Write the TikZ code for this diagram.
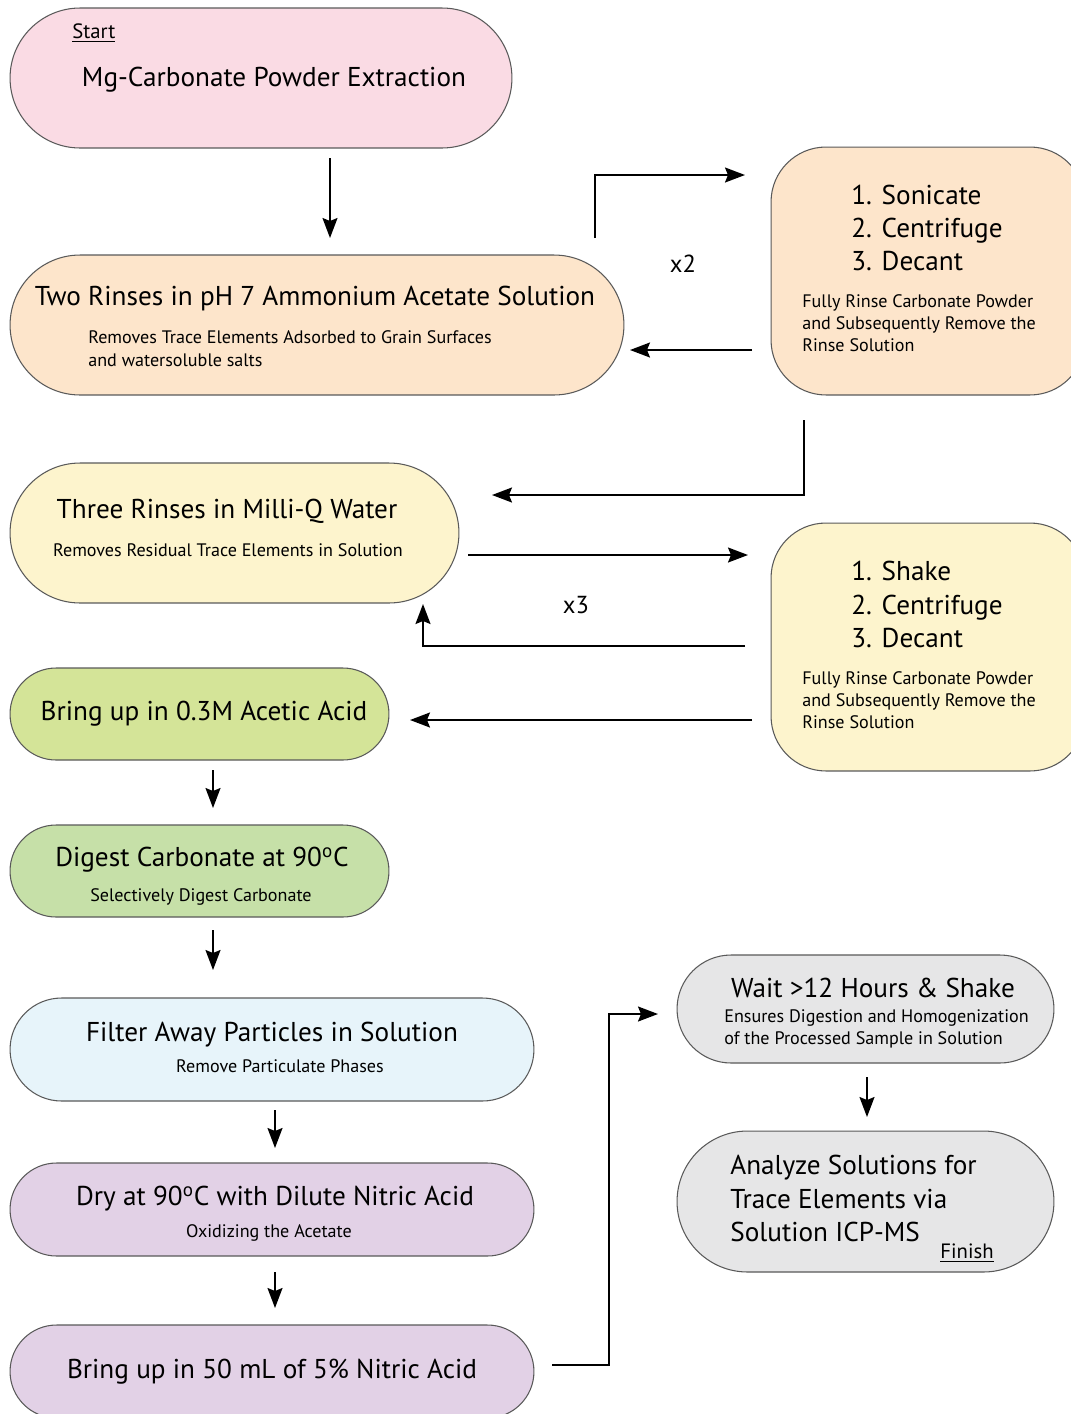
\documentclass[tikz,border=0pt]{standalone}
\usepackage{fontspec}
\setmainfont{PT Sans}
\usetikzlibrary{arrows.meta}

\definecolor{startpink}{RGB}{250,219,228}
\definecolor{rinsepeach}{RGB}{253,229,203}
\definecolor{rinseyellow}{RGB}{253,244,205}
\definecolor{aceticgreen}{RGB}{212,228,152}
\definecolor{digestgreen}{RGB}{198,224,168}
\definecolor{filterblue}{RGB}{231,244,250}
\definecolor{drylilac}{RGB}{226,209,230}
\definecolor{finalgray}{RGB}{230,230,231}

\tikzset{
	stepbox/.style={draw=black!65, line width=0.6pt, rectangle, inner sep=0pt},
	title/.style={font=\fontsize{15.5}{19}\selectfont, inner sep=0pt},
	note/.style={font=\fontsize{10.3}{12.5}\selectfont, align=left, inner sep=0pt},
	arr/.style={line width=1pt, -{Stealth[length=0.4cm, width=0.3cm, inset=0.06cm]}},
}

\begin{document}
\begin{tikzpicture}[x=0.02cm, y=-0.02cm]
	\useasboundingbox (0,0) rectangle (1071,1414);
	\clip (0,0) rectangle (1071,1414);

	\node[stepbox, fill=startpink, minimum width=10.04cm, minimum height=2.8cm, rounded corners=1.4cm] (mg) at (261,78) {};
	\node[stepbox, fill=rinsepeach, minimum width=12.28cm, minimum height=2.8cm, rounded corners=1.4cm] (rinse2) at (317,325) {};
	\node[stepbox, fill=rinsepeach, minimum width=6.28cm, minimum height=4.96cm, rounded corners=1.1cm] (cycle2) at (928,271) {};
	\node[stepbox, fill=rinseyellow, minimum width=8.98cm, minimum height=2.8cm, rounded corners=1.4cm] (rinse3) at (234.5,533) {};
	\node[stepbox, fill=rinseyellow, minimum width=6.28cm, minimum height=4.96cm, rounded corners=1.1cm] (cycle3) at (928,647) {};
	\node[stepbox, fill=aceticgreen, minimum width=7.58cm, minimum height=1.84cm, rounded corners=0.92cm] (acetic) at (199.5,714) {};
	\node[stepbox, fill=digestgreen, minimum width=7.58cm, minimum height=1.84cm, rounded corners=0.92cm] (digest) at (199.5,871) {};
	\node[stepbox, fill=filterblue, minimum width=10.48cm, minimum height=2.06cm, rounded corners=1.03cm] (filter) at (272,1049.5) {};
	\node[stepbox, fill=drylilac, minimum width=10.48cm, minimum height=1.86cm, rounded corners=0.93cm] (dry) at (272,1209.5) {};
	\node[stepbox, fill=drylilac, minimum width=10.48cm, minimum height=1.86cm, rounded corners=0.93cm] (nitric) at (272,1371.5) {};
	\node[stepbox, fill=finalgray, minimum width=7.54cm, minimum height=2.16cm, rounded corners=1.08cm] (wait) at (865.5,1009) {};
	\node[stepbox, fill=finalgray, minimum width=7.54cm, minimum height=2.82cm, rounded corners=1.41cm] (analyze) at (865.5,1201.5) {};

	\node[note, font=\fontsize{11.8}{13}\selectfont, anchor=west] (start) at (72,33) {\underline{Start}};
	\node[title] (mg-t) at (274,80) {Mg-Carbonate Powder Extraction};

	\node[title] (rinse2-t) at (315,299) {Two Rinses in pH 7 Ammonium Acetate Solution};
	\node[note, anchor=west, font=\fontsize{10.3}{13}\selectfont] (rinse2-n) at (88,348.5) {Removes Trace Elements Adsorbed to Grain Surfaces\\and watersoluble salts};
	\node[title, align=left, anchor=west] (cycle2-t) at (851,228) {1. Sonicate\\2. Centrifuge\\3. Decant};
	\node[note, anchor=west] (cycle2-n) at (802,323) {Fully Rinse Carbonate Powder\\and Subsequently Remove the\\Rinse Solution};
	\node[font=\fontsize{14}{16}\selectfont, inner sep=0pt] (x2) at (683,264) {x2};

	\node[title] (rinse3-t) at (227,511) {Three Rinses in Milli-Q Water};
	\node[note] (rinse3-n) at (228,550) {Removes Residual Trace Elements in Solution};
	\node[title, align=left, anchor=west] (cycle3-t) at (851,604.5) {1. Shake\\2. Centrifuge\\3. Decant};
	\node[note, anchor=west] (cycle3-n) at (802,700) {Fully Rinse Carbonate Powder\\and Subsequently Remove the\\Rinse Solution};
	\node[font=\fontsize{14}{16}\selectfont, inner sep=0pt] (x3) at (576,605) {x3};

	\node[title] (acetic-t) at (204,714) {Bring up in 0.3M Acetic Acid};
	\node[title] (digest-t) at (202,860) {Digest Carbonate at 90\textsuperscript{o}C};
	\node[note] (digest-n) at (201,897) {Selectively Digest Carbonate};
	\node[title] (filter-t) at (272,1035) {Filter Away Particles in Solution};
	\node[note] (filter-n) at (280,1066) {Remove Particulate Phases};
	\node[title] (dry-t) at (275,1199) {Dry at 90\textsuperscript{o}C with Dilute Nitric Acid};
	\node[note] (dry-n) at (269,1233) {Oxidizing the Acetate};
	\node[title] (nitric-t) at (272,1372) {Bring up in 50 mL of 5\% Nitric Acid};

	\node[title] (wait-t) at (873,988) {Wait >12 Hours \& Shake};
	\node[note, anchor=west] (wait-n) at (724,1029) {Ensures Digestion and Homogenization\\of the Processed Sample in Solution};
	\node[title, align=left, anchor=west] (analyze-t) at (730,1198.5) {Analyze Solutions for\\Trace Elements via\\Solution ICP-MS};
	\node[note, font=\fontsize{11.8}{13}\selectfont] (finish) at (967,1253) {\underline{Finish}};

	\coordinate (mg-out) at (330,158);
	\coordinate (rinse2-in) at (330,238);
	\coordinate (rinse2-out) at (595,238);
	\coordinate (bend1) at (595,175);
	\coordinate (cycle2-in) at (745,175);
	\coordinate (cycle2-back) at (752,350);
	\coordinate (rinse2-back) at (630,350);
	\coordinate (cycle2-out) at (804,420);
	\coordinate (bend2) at (804,495);
	\coordinate (rinse3-in) at (492,495);
	\coordinate (rinse3-out) at (468,555);
	\coordinate (cycle3-in) at (748,555);
	\coordinate (cycle3-back) at (745,646);
	\coordinate (bend3) at (423,646);
	\coordinate (rinse3-back) at (423,604);
	\coordinate (cycle3-out) at (752,720);
	\coordinate (acetic-in) at (410,720);
	\coordinate (acetic-out) at (213,770);
	\coordinate (digest-in) at (213,808);
	\coordinate (digest-out) at (213,930);
	\coordinate (filter-in) at (213,970);
	\coordinate (filter-out) at (275,1110);
	\coordinate (dry-in) at (275,1148);
	\coordinate (dry-out) at (275,1272);
	\coordinate (nitric-in) at (275,1308);
	\coordinate (nitric-out) at (552,1365);
	\coordinate (bend4) at (609,1365);
	\coordinate (bend5) at (609,1014);
	\coordinate (wait-in) at (658,1014);
	\coordinate (wait-out) at (867,1077);
	\coordinate (analyze-in) at (867,1117);

	\draw[arr] (mg-out) -- (rinse2-in);
	\draw[arr] (rinse2-out) -- (bend1) -- (cycle2-in);
	\draw[arr] (cycle2-back) -- (rinse2-back);
	\draw[arr] (cycle2-out) -- (bend2) -- (rinse3-in);
	\draw[arr] (rinse3-out) -- (cycle3-in);
	\draw[arr] (cycle3-back) -- (bend3) -- (rinse3-back);
	\draw[arr] (cycle3-out) -- (acetic-in);
	\draw[arr] (acetic-out) -- (digest-in);
	\draw[arr] (digest-out) -- (filter-in);
	\draw[arr] (filter-out) -- (dry-in);
	\draw[arr] (dry-out) -- (nitric-in);
	\draw[arr] (nitric-out) -- (bend4) -- (bend5) -- (wait-in);
	\draw[arr] (wait-out) -- (analyze-in);

\end{tikzpicture}
\end{document}
